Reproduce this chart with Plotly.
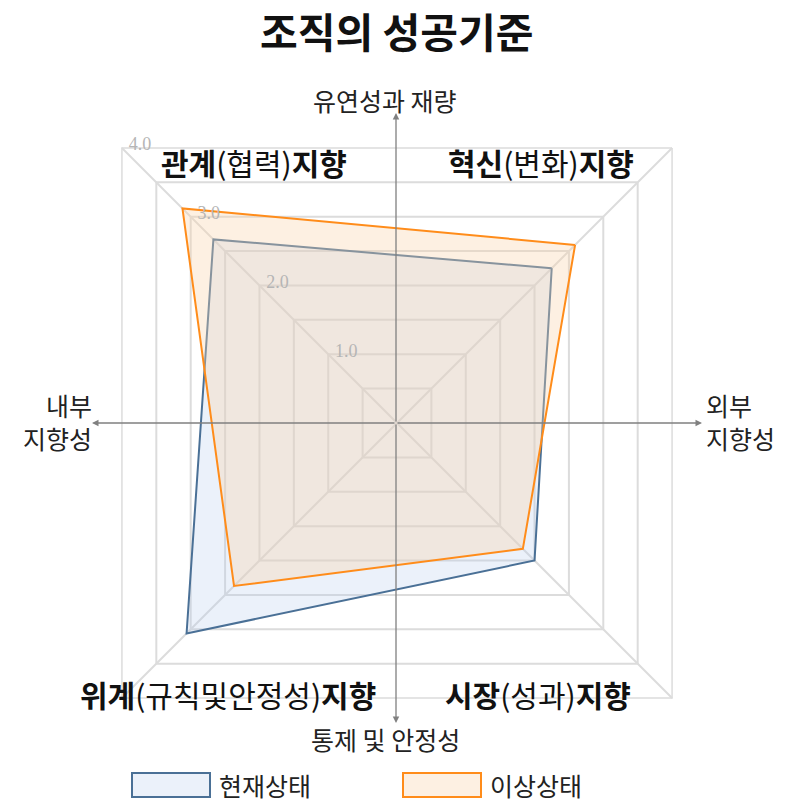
import plotly.graph_objects as go

# ---------------- data ----------------
categories = ["혁신(변화)지향", "관계(협력)지향", "위계(규칙및안정성)지향", "시장(성과)지향"]
current_state = [2.25, 2.67, 3.06, 2.0]
ideal_state = [2.59, 3.12, 2.37, 1.83]
series_names = ["현재상태", "이상상태"]
radial_tickvals = [0.5, 1.0, 1.5, 2.0, 2.5, 3.0, 3.5, 4.0]
radial_ticktext = ["", "1.0", "", "2.0", "", "3.0", "", "4.0"]

line_colors = ["#4a7096", "#ff8c1a"]
fill_colors = ["rgba(180,205,235,0.27)", "rgba(249,212,172,0.35)"]

# page body has an 8px margin, so figure pixel = screen pixel - 8
OFF = 8
W, H = 788, 810
KR = "Noto Sans CJK KR"


def px(sx):
    return (sx - OFF) / W


def py(sy):
    return 1 - (sy - OFF) / H


def closed(v):
    return list(v) + [v[0]]


fig = go.Figure()
for vals, name, lc, fc in zip([current_state, ideal_state], series_names, line_colors, fill_colors):
    fig.add_trace(go.Scatterpolar(
        r=closed(vals), theta=closed(categories), name=name,
        mode="lines", fill="toself", fillcolor=fc,
        line=dict(color=lc, width=2),
    ))

# polar centre (screen px) and radius
cx, cy, R = 397, 423, 389
fig.update_layout(
    width=W, height=H,
    margin=dict(l=0, r=0, t=0, b=0, autoexpand=False),
    paper_bgcolor="white",
    showlegend=False,
    polar=dict(
        domain=dict(x=[px(cx - R), px(cx + R)], y=[py(cy + R), py(cy - R)]),
        bgcolor="rgba(0,0,0,0)",
        gridshape="linear",
        angularaxis=dict(rotation=45, direction="counterclockwise",
                         showticklabels=False, ticks="",
                         gridcolor="#dcdcdc", gridwidth=1.5,
                         showline=True, linecolor="#dcdcdc", linewidth=1.5),
        radialaxis=dict(range=[0, 4], angle=135, tickangle=135,
                        tickmode="array", tickvals=radial_tickvals, ticktext=radial_ticktext,
                        showline=False, ticks="", gridcolor="#dcdcdc", gridwidth=1.5,
                        tickfont=dict(family="Liberation Serif", size=18, color="#b5b5b5")),
    ),
)

annotations = []
# title
annotations.append(dict(x=px(396), y=py(30), text="<b>조직의 성공기준</b>",
                        xanchor="center", yanchor="middle", showarrow=False,
                        font=dict(family=KR, size=41, color="#111111")))
# quadrant labels
quad = [
    (254, 162, "<b>관계</b>(협력)<b>지향</b>"),
    (541, 162, "<b>혁신</b>(변화)<b>지향</b>"),
    (228, 694, "<b>위계</b>(규칙및안정성)<b>지향</b>"),
    (538, 694, "<b>시장</b>(성과)<b>지향</b>"),
]
for x, y, t in quad:
    annotations.append(dict(x=px(x), y=py(y), text=t, showarrow=False,
                            xanchor="center", yanchor="middle",
                            font=dict(family=KR, size=30, color="#111111")))
# axis direction labels
dir_font = dict(family=KR, size=25, color="#222222")
annotations += [
    dict(x=px(385), y=py(100), text="유연성과 재량", xanchor="center", yanchor="middle",
         showarrow=False, font=dir_font),
    dict(x=px(385), y=py(739), text="통제 및 안정성", xanchor="center", yanchor="middle",
         showarrow=False, font=dir_font),
    dict(x=px(94), y=py(421), text="내부<br>지향성", xanchor="right", yanchor="middle",
         align="right", showarrow=False, font=dir_font),
    dict(x=px(704), y=py(421), text="외부<br>지향성", xanchor="left", yanchor="middle",
         align="left", showarrow=False, font=dir_font),
]
# axis arrows from centre
acx, acy = 396, 423
for tx, ty in [(396, 113), (396, 723), (92, 423), (702, 423)]:
    annotations.append(dict(x=px(tx), y=py(ty), text="", showarrow=True,
                            ax=acx - tx, ay=acy - ty, axref="pixel", ayref="pixel",
                            arrowhead=2, arrowsize=1, arrowwidth=1.3, arrowcolor="#808080",
                            standoff=0, startstandoff=0))

# legend (boxes drawn as shapes, names from series_names)
shapes = []
legend_x = [132, 403]
for lx, name, lc, fc in zip(legend_x, series_names, line_colors, fill_colors):
    shapes.append(dict(type="rect", xref="paper", yref="paper",
                       x0=px(lx), x1=px(lx + 78), y0=py(797), y1=py(773),
                       line=dict(color=lc, width=2), fillcolor=fc))
    annotations.append(dict(x=px(lx + 85), y=py(785), text=name, showarrow=False,
                            xanchor="left", yanchor="middle",
                            font=dict(family=KR, size=25, color="#222222")))

for a in annotations:
    a.update(xref="paper", yref="paper")
fig.update_layout(annotations=annotations, shapes=shapes)

fig.write_html("out.html")
